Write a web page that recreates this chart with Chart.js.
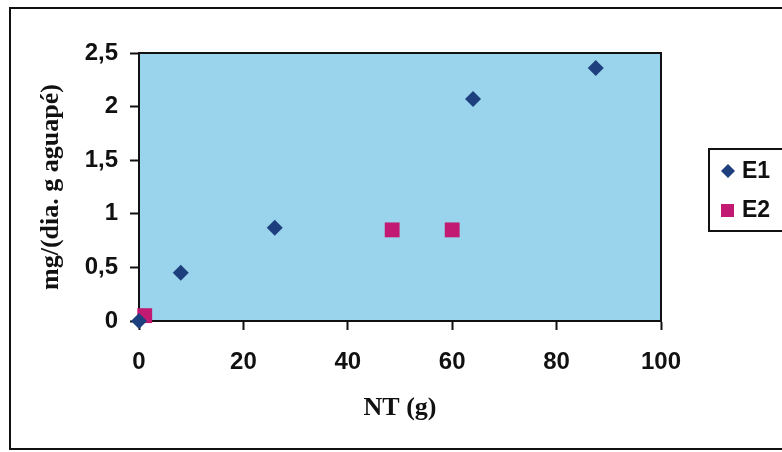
<!DOCTYPE html>
<html>
<head>
<meta charset="utf-8">
<script src="https://cdn.jsdelivr.net/npm/chart.js@4"></script>
<style>
  html, body { margin: 0; padding: 0; background: #fff; }
  #wrap { width: 782px; height: 452px; }
</style>
</head>
<body>
<div id="wrap"><canvas id="chart" width="782" height="452"></canvas></div>
<script>
// datos
const seriesNames = ['E1', 'E2'];
const e1X = [0, 8, 26, 64, 87.5];
const e1Y = [0, 0.45, 0.87, 2.07, 2.36];
const e2X = [1.1, 48.5, 60];
const e2Y = [0.05, 0.85, 0.85];
const xTicks = [0, 20, 40, 60, 80, 100];
const yTicks = [0, 0.5, 1, 1.5, 2, 2.5];

const toPoints = (xs, ys) => xs.map((x, i) => ({ x: x, y: ys[i] }));
const fmt = v => String(v).replace('.', ',');

// fondo, marcos y leyenda
const decor = {
    id: 'decor',
    beforeDraw(chart) {
        const { ctx, chartArea: a } = chart;
        ctx.save();
        ctx.fillStyle = '#fff';
        ctx.fillRect(0, 0, chart.width, chart.height);
        ctx.strokeStyle = '#111';
        ctx.lineWidth = 2;
        ctx.strokeRect(10, 8, 800, 441);
        ctx.fillStyle = '#9ad4ec';
        ctx.fillRect(a.left, a.top, a.right - a.left, a.bottom - a.top);
        ctx.strokeRect(a.left, a.top, a.right - a.left, a.bottom - a.top);
        ctx.restore();
    },
    afterDraw(chart) {
        const { ctx } = chart;
        ctx.save();
        ctx.strokeStyle = '#111';
        ctx.lineWidth = 2;
        // leyenda
        ctx.strokeRect(709, 149, 100, 82);
        ctx.font = 'bold 23px "Liberation Sans", Arial, sans-serif';
        ctx.textBaseline = 'middle';
        chart.data.datasets.forEach((ds, i) => {
            const y = 171 + i * 39;
            ctx.fillStyle = ds.backgroundColor;
            ctx.beginPath();
            if (ds.pointStyle === 'rectRot') {
                ctx.moveTo(728, y - 7); ctx.lineTo(735, y); ctx.lineTo(728, y + 7); ctx.lineTo(721, y);
            } else {
                ctx.rect(721, y - 6, 13, 13);
            }
            ctx.closePath();
            ctx.fill();
            ctx.fillStyle = '#111';
            ctx.fillText(ds.label, 742, y + 1);
        });
        ctx.restore();
    }
};

const tickFont = { family: '"Liberation Sans", Arial, sans-serif', size: 24, weight: 'bold' };
const titleFont = { family: '"Liberation Serif", "Times New Roman", serif', size: 26, weight: 'bold' };
const gridOpts = { display: true, drawOnChartArea: false, drawTicks: true, tickLength: 9, tickColor: '#111', tickWidth: 2 };

const ctx = document.getElementById('chart').getContext('2d');
new Chart(ctx, {
    type: 'scatter',
    data: {
        datasets: [{
            label: seriesNames[0],
            data: toPoints(e1X, e1Y),
            pointStyle: 'rectRot',
            pointRadius: 8,
            backgroundColor: '#1d3f7e',
            borderColor: '#1d3f7e',
            borderWidth: 0,
            clip: false
        }, {
            label: seriesNames[1],
            data: toPoints(e2X, e2Y),
            pointStyle: 'rect',
            pointRadius: 10.5,
            backgroundColor: '#c21a72',
            borderColor: '#c21a72',
            borderWidth: 0,
            clip: false
        }]
    },
    plugins: [decor],
    options: {
        responsive: false,
        animation: false,
        layout: { padding: { top: 53, right: 121, left: 0, bottom: 0 } },
        plugins: { legend: { display: false }, tooltip: { enabled: false } },
        scales: {
            x: {
                type: 'linear',
                min: 0, max: 100,
                afterFit(s) { s.height = 131; },
                afterBuildTicks(s) { s.ticks = xTicks.map(v => ({ value: v })); },
                grid: gridOpts,
                border: { display: true, color: '#111', width: 2 },
                ticks: { color: '#111', padding: 18, font: tickFont, callback: v => fmt(v) },
                title: {
                    display: true, text: 'NT (g)', color: '#111',
                    padding: { top: 0, bottom: 28 },
                    font: titleFont
                }
            },
            y: {
                type: 'linear',
                min: 0, max: 2.5,
                afterFit(s) { s.width = 139; },
                afterBuildTicks(s) { s.ticks = yTicks.map(v => ({ value: v })); },
                grid: gridOpts,
                border: { display: true, color: '#111', width: 2 },
                ticks: { color: '#111', padding: 12, font: tickFont, callback: v => fmt(v) },
                title: {
                    display: true, text: 'mg/(dia. g aguapé)', color: '#111',
                    padding: { top: 36, bottom: 0 },
                    font: titleFont
                }
            }
        }
    }
});
</script>
</body>
</html>
